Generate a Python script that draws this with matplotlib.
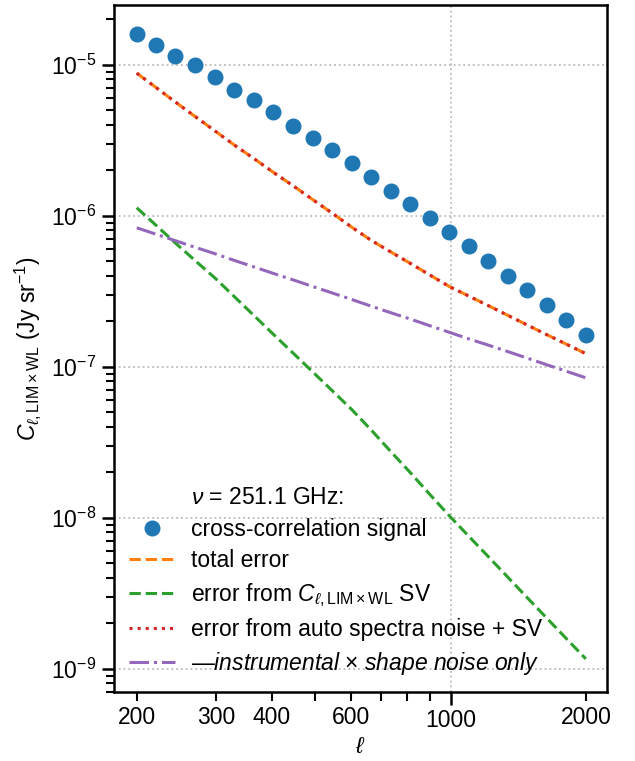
import numpy as np
import matplotlib
matplotlib.use("Agg")
import matplotlib.pyplot as plt


# =========================
# data
# =========================

ell = [200, 221, 244, 270, 299, 330, 365, 403, 446, 493, 545, 602,
       665, 735, 813, 898, 993, 1097, 1213, 1340, 1481, 1637, 1810, 2000]

signal = [1.60e-5, 1.35e-5, 1.15e-5, 1.00e-5, 8.29e-6, 6.86e-6, 5.81e-6, 4.86e-6,
          3.96e-6, 3.29e-6, 2.73e-6, 2.22e-6, 1.81e-6, 1.47e-6, 1.19e-6, 9.66e-7,
          7.80e-7, 6.27e-7, 5.01e-7, 4.01e-7, 3.22e-7, 2.56e-7, 2.04e-7, 1.62e-7]

total_err = [8.81e-6, 7.06e-6, 5.66e-6, 4.54e-6, 3.64e-6, 2.94e-6, 2.39e-6, 1.94e-6,
             1.58e-6, 1.28e-6, 1.04e-6, 8.41e-7, 6.88e-7, 5.77e-7, 4.84e-7, 4.06e-7,
             3.40e-7, 2.94e-7, 2.54e-7, 2.19e-7, 1.89e-7, 1.63e-7, 1.41e-7, 1.22e-7]

sv_err = [1.13e-6, 8.63e-7, 6.59e-7, 5.04e-7, 3.86e-7, 2.91e-7, 2.18e-7, 1.64e-7,
          1.23e-7, 9.24e-8, 6.94e-8, 5.21e-8, 3.82e-8, 2.75e-8, 1.99e-8, 1.43e-8,
          1.03e-8, 7.54e-9, 5.52e-9, 4.04e-9, 2.95e-9, 2.16e-9, 1.58e-9, 1.16e-9]

auto_err = [8.81e-6, 7.06e-6, 5.66e-6, 4.54e-6, 3.64e-6, 2.94e-6, 2.39e-6, 1.94e-6,
            1.58e-6, 1.28e-6, 1.04e-6, 8.41e-7, 6.88e-7, 5.77e-7, 4.84e-7, 4.06e-7,
            3.40e-7, 2.94e-7, 2.54e-7, 2.19e-7, 1.89e-7, 1.63e-7, 1.41e-7, 1.22e-7]

inst_err = [8.33e-7, 7.54e-7, 6.83e-7, 6.18e-7, 5.60e-7, 5.06e-7, 4.58e-7, 4.15e-7,
            3.76e-7, 3.40e-7, 3.08e-7, 2.79e-7, 2.52e-7, 2.28e-7, 2.07e-7, 1.87e-7,
            1.69e-7, 1.53e-7, 1.39e-7, 1.26e-7, 1.14e-7, 1.03e-7, 9.33e-8, 8.44e-8]

xticks_minor = [200, 300, 400, 500, 600, 700, 800, 900, 2000]
xlabels_minor = ["200", "300", "400", "500", "600", "700", "800", "900", "2000"]
xlabels_shown = ["200", "300", "400", "600", "2000"]


# =========================
# style
# =========================

plt.rcParams["font.family"] = ["Liberation Sans", "DejaVu Sans"]
plt.rcParams["mathtext.fontset"] = "custom"
plt.rcParams["mathtext.rm"] = "Liberation Sans"
plt.rcParams["mathtext.it"] = "Liberation Sans:italic"
plt.rcParams["mathtext.bf"] = "Liberation Sans:bold"
plt.rcParams["font.size"] = 16.5


# =========================
# plot
# =========================

fig = plt.figure(figsize=(6.35, 7.61), dpi=100)
ax = fig.add_axes([0.1795, 0.0907, 0.7765, 0.9027])

ax.plot([], [], " ", label=r"$\nu$ = 251.1 GHz:")
ax.plot(ell, signal, "o", color="C0", ms=10.5, label="cross-correlation signal")
ax.plot(ell, total_err, "--", color="C1", lw=2.2, label="total error")
ax.plot(ell, sv_err, "--", color="C2", lw=2.2,
        label=r"error from $C_{\ell,\mathrm{LIM}\times\mathrm{WL}}$ SV")
ax.plot(ell, auto_err, ":", color="C3", lw=2.2,
        label="error from auto spectra noise + SV")
ax.plot(ell, inst_err, "-.", color="C4", lw=2.2,
        label=r"—$\mathit{instrumental}$ $\times$ $\mathit{shape\ noise\ only}$")

ax.set_xscale("log")
ax.set_yscale("log")
ax.set_xlim(178, 2230)
ax.set_ylim(7.0e-10, 2.49e-5)

ax.set_xticks([1000])
ax.set_xticklabels(["1000"])
ax.set_xticks(xticks_minor, minor=True)
ax.set_xticklabels(xlabels_minor, minor=True)
for lab in ax.get_xticklabels(minor=True):
    if lab.get_text() not in xlabels_shown:
        lab.set_visible(False)

ax.tick_params(which="major", length=9, width=1.8, direction="out")
ax.tick_params(which="minor", length=5.5, width=1.5, direction="out")
ax.tick_params(axis="x", which="minor", length=6.5)
for s in ax.spines.values():
    s.set_linewidth(1.8)

ax.grid(True, which="major", ls=":", color="#bbbbbb", lw=1.3)

ax.set_xlabel(r"$\ell$", labelpad=2)
ax.set_ylabel(r"$C_{\ell,\mathrm{LIM}\times\mathrm{WL}}$ (Jy sr$^{-1}$)", labelpad=6)

ax.legend(loc="lower left", frameon=False, fontsize=16.5, handlelength=2.0,
          labelspacing=0.39, borderaxespad=0.25, handletextpad=0.7)

fig.savefig("out.png", dpi=100)
